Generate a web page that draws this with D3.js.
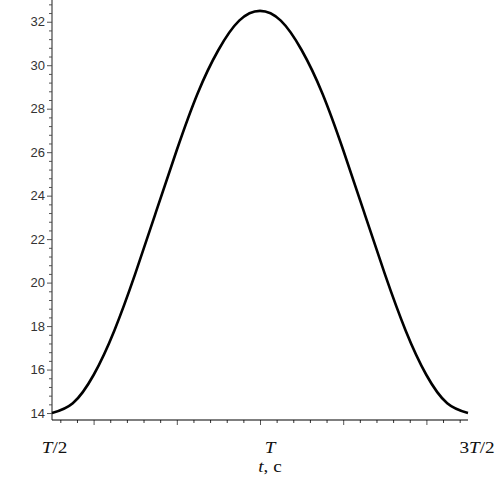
<!DOCTYPE html>
<html>
<head>
<meta charset="utf-8">
<script src="https://cdn.jsdelivr.net/npm/d3@7"></script>
<style>
  html, body { margin: 0; padding: 0; background: #fff; }
  svg { display: block; }
</style>
</head>
<body>
<div id="chart"></div>
<script>
// ---- data ----
const tValues = [2.5, 2.75, 3.0, 3.25, 3.5, 3.75, 4.0, 4.25, 4.5, 4.75, 5.0,
                 5.25, 5.5, 5.75, 6.0, 6.25, 6.5, 6.75, 7.0, 7.25, 7.5];
const yValues = [14.0, 14.45, 15.75, 17.8, 20.4, 23.25, 26.1, 28.7, 30.7, 32.05, 32.5,
                 32.05, 30.7, 28.7, 26.1, 23.25, 20.4, 17.8, 15.75, 14.45, 14.0];
const yMajorTicks = [14, 16, 18, 20, 22, 24, 26, 28, 30, 32];
const xMajorTicks = [3, 4, 5, 6, 7];
const xLabelValues = [2.5, 5, 7.5];
const xLabelTexts = [
  [{t: "T", i: true}, {t: "/2"}],
  [{t: "T", i: true}],
  [{t: "3"}, {t: "T", i: true}, {t: "/2"}]
];
const xTitle = [{t: "t", i: true}, {t: ", c"}];

// ---- layout ----
const W = 496, H = 480;
const svg = d3.select("#chart").append("svg").attr("width", W).attr("height", H);

const x = d3.scaleLinear().domain([2.5, 7.5]).range([52, 468]);
const y = d3.scaleLinear().domain([13.68, 33.0]).range([420, 0]);

const yMinor = d3.range(14.4, 32.95, 0.4).filter(v => Math.abs(v / 2 - Math.round(v / 2)) > 0.01);
const xMinor = d3.range(2.6, 7.45, 0.2).filter(v => Math.abs(v - Math.round(v)) > 0.01);

// y axis
const gy = svg.append("g").attr("transform", `translate(${x(2.5)},0)`);
gy.call(d3.axisLeft(y).tickValues(yMajorTicks).tickSize(5).tickPadding(2).tickFormat(d3.format("d")));
gy.select(".domain").remove();
gy.selectAll(".tick line").attr("stroke", "#555");
gy.selectAll(".tick text")
  .attr("font-family", "'Liberation Sans', Arial, sans-serif")
  .attr("font-size", 13).attr("fill", "#333");
const gyMinor = svg.append("g").attr("transform", `translate(${x(2.5)},0)`);
gyMinor.call(d3.axisLeft(y).tickValues(yMinor).tickSize(3).tickFormat(""));
gyMinor.select(".domain").remove();
gyMinor.selectAll(".tick line").attr("stroke", "#555");
svg.append("line").attr("x1", x(2.5)).attr("x2", x(2.5))
  .attr("y1", y(33.0)).attr("y2", y(13.68))
  .attr("stroke", "#444").attr("stroke-width", 1.2);

// x axis
const gx = svg.append("g").attr("transform", `translate(0,${y(13.68)})`);
gx.call(d3.axisBottom(x).tickValues(xMajorTicks).tickSize(5).tickFormat(""));
gx.select(".domain").remove();
gx.selectAll(".tick line").attr("stroke", "#555");
const gxMinor = svg.append("g").attr("transform", `translate(0,${y(13.68)})`);
gxMinor.call(d3.axisBottom(x).tickValues(xMinor).tickSize(3).tickFormat(""));
gxMinor.select(".domain").remove();
gxMinor.selectAll(".tick line").attr("stroke", "#333");
svg.append("line").attr("x1", x(2.5)).attr("x2", x(7.5))
  .attr("y1", y(13.68)).attr("y2", y(13.68))
  .attr("stroke", "#000").attr("stroke-width", 1.2);

// x labels
const labelShift = [2.5, 10, 9];
function addRich(sel, parts) {
  parts.forEach(p => {
    sel.append("tspan").attr("font-style", p.i ? "italic" : "normal").text(p.t);
  });
}
xLabelTexts.forEach((parts, k) => {
  const t = svg.append("text")
    .attr("transform", `translate(${x(xLabelValues[k]) + labelShift[k]},453) scale(1.2,1)`)
    .attr("text-anchor", "middle")
    .attr("font-family", "'Liberation Serif', 'Times New Roman', serif")
    .attr("font-size", 16).attr("fill", "#111");
  addRich(t, parts);
});
const tt = svg.append("text")
  .attr("transform", `translate(${x(5) + 10},472) scale(1.2,1)`)
  .attr("text-anchor", "middle")
  .attr("font-family", "'Liberation Serif', 'Times New Roman', serif")
  .attr("font-size", 16).attr("fill", "#111");
addRich(tt, xTitle);

// curve
const line = d3.line().x((d, i) => x(tValues[i])).y(d => y(d)).curve(d3.curveNatural);
svg.append("path").datum(yValues)
  .attr("d", line)
  .attr("fill", "none").attr("stroke", "#000").attr("stroke-width", 2.6)
  .attr("stroke-linejoin", "round");
</script>
</body>
</html>
